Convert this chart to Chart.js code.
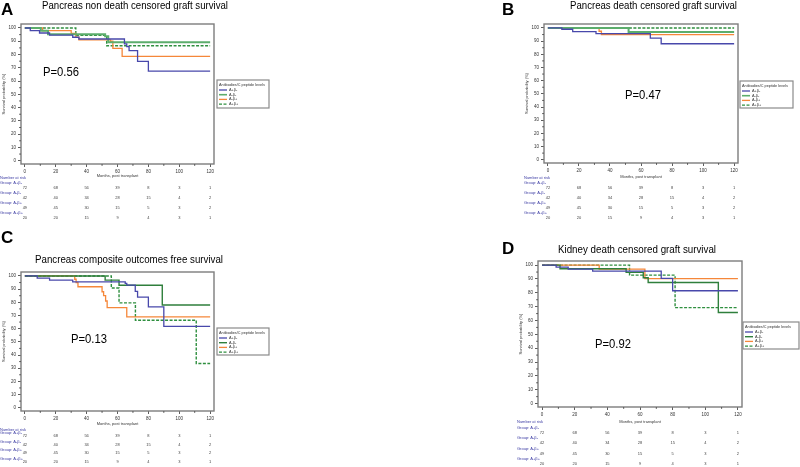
<!DOCTYPE html>
<html>
<head>
<meta charset="utf-8">
<script src="https://cdn.jsdelivr.net/npm/chart.js@4.4.1/dist/chart.umd.min.js"></script>
<style>
html, body { margin: 0; padding: 0; background: #fff; }
#wrap { position: relative; width: 800px; height: 467px; overflow: hidden; }
canvas { position: absolute; }
</style>
</head>
<body>
<div id="wrap">
  <canvas id="cA" width="400" height="230" style="left:0;top:0"></canvas>
  <canvas id="cB" width="400" height="230" style="left:400px;top:0"></canvas>
  <canvas id="cC" width="400" height="237" style="left:0;top:230px"></canvas>
  <canvas id="cD" width="400" height="237" style="left:400px;top:230px"></canvas>
</div>
<script>
// axis ticks and groups
const xTicks = [0, 20, 40, 60, 80, 100, 120];
const yTicks = [0, 10, 20, 30, 40, 50, 60, 70, 80, 90, 100];
const groupNames = ['A+β-', 'A-β-', 'A-β+', 'A+β+'];

// number at risk (same in every panel)
const riskApBn = [72, 68, 56, 39, 8, 3, 1];
const riskAnBn = [42, 40, 34, 28, 15, 4, 2];
const riskAnBp = [49, 45, 30, 15, 5, 3, 2];
const riskApBp = [20, 20, 15, 9, 4, 3, 1];

// A - pancreas non death censored graft survival  [month, %]
const a_ApBn = [[0,100],[3.5,98],[9.5,96.2],[16,94.6],[31,93],[35,91.7],[64.5,88],[66,86],[67.5,83],[73,74.8],[80,67.5],[120,67.5]];
const a_AnBn = [[0,100],[10.3,98],[15,95.3],[52,93.8],[54,89.2],[120,89.2]];
const a_AnBp = [[0,100],[11.5,98],[30,96],[33,93],[35,91],[55.5,90],[57,84.7],[63,78.6],[120,78.6]];
const a_ApBp = [[0,100],[33,94.4],[53,86.6],[120,86.6]];

// B - pancreas death censored graft survival
const b_ApBn = [[0,100],[9,99],[16,97.2],[31,95.7],[66,92.3],[73,88],[120,88]];
const b_AnBn = [[0,100],[52,97],[120,97]];
const b_AnBp = [[0,100],[33,97.5],[34.5,95],[120,95]];
const b_ApBp = [[0,100],[120,100]];

// C - pancreas composite outcomes free survival
const c_ApBn = [[0,100],[8,98.3],[16,96.8],[31,95.5],[65,94.3],[66,93],[71.5,88.3],[73,84],[80,76.6],[90,61.7],[120,61.7]];
const c_AnBn = [[0,100],[52,96.8],[61,93],[89,78],[120,78]];
const c_AnBp = [[0,100],[32.3,97.5],[33.2,95],[34.4,91.8],[50,88],[51,85],[52.3,81],[53.3,75.9],[66,69],[120,69]];
const c_ApBp = [[0,100],[56,90.8],[61,79.6],[71.6,66.4],[111,33.6],[120,33.6]];

// D - kidney death censored graft survival
const d_ApBn = [[0,100],[8.6,98.6],[16,97.2],[31,95.7],[73,90.4],[80,81.5],[120,81.5]];
const d_AnBn = [[0,100],[11,97.4],[51.5,94.8],[62,90.9],[65,87.5],[108,65.8],[120,65.8]];
const d_AnBp = [[0,100],[35,97.1],[63,90.2],[120,90.2]];
const d_ApBp = [[0,100],[53.6,92.8],[81.5,69.3],[120,69.3]];

const BLUE = '#4848ab', ORANGE = '#f5873a', LGREEN = '#5cad6c', DGREEN = '#2f7f3c', DASHG = '#2f8f3f';
const SMALL = '"Liberation Sans", Arial, sans-serif';

function makeExtras(p) {
  return {
    id: 'extras',
    afterDraw(chart) {
      const ctx = chart.ctx, ca = chart.chartArea;
      const xs = chart.scales.x, ys = chart.scales.y;
      const ox = p.off[0], oy = p.off[1];
      ctx.save();
      // frame
      ctx.strokeStyle = '#7d7d7d';
      ctx.lineWidth = 1.4;
      ctx.strokeRect(ca.left, ca.top, ca.right - ca.left, ca.bottom - ca.top);
      // minor ticks
      ctx.strokeStyle = '#333';
      ctx.lineWidth = 0.7;
      ctx.beginPath();
      for (let v = 10; v < 120; v += 20) {
        const px = xs.getPixelForValue(v);
        ctx.moveTo(px, ca.bottom); ctx.lineTo(px, ca.bottom + 2);
      }
      for (let v = 5; v < 100; v += 10) {
        const py = ys.getPixelForValue(v);
        ctx.moveTo(ca.left - 2, py); ctx.lineTo(ca.left, py);
      }
      ctx.stroke();

      // panel letter
      ctx.fillStyle = '#000';
      ctx.textBaseline = 'alphabetic';
      ctx.textAlign = 'left';
      ctx.font = 'bold 17px ' + SMALL;
      ctx.fillText(p.letter, p.letterPos[0] - ox, p.letterPos[1] - oy);
      // title
      ctx.font = '11px ' + SMALL;
      ctx.fillText(p.title, p.titlePos[0] - ox, p.titlePos[1] - oy, p.titlePos[2]);
      // p value
      ctx.font = '12.5px ' + SMALL;
      ctx.fillText(p.pval, p.pPos[0] - ox, p.pPos[1] - oy, 36);

      // axis titles
      ctx.fillStyle = '#333';
      ctx.font = '4px ' + SMALL;
      ctx.textAlign = 'center';
      ctx.textBaseline = 'middle';
      ctx.fillText('Months, post transplant', (ca.left + ca.right) / 2, p.monthsY - oy);
      ctx.save();
      ctx.translate(p.yTitleX - ox, (ca.top + ca.bottom) / 2);
      ctx.rotate(-Math.PI / 2);
      ctx.fillText('Survival probability (%)', 0, 0);
      ctx.restore();

      // legend box
      const [ll, lt, lr, lb] = p.legend.map((v, i) => v - (i % 2 ? oy : ox));
      ctx.fillStyle = '#fff';
      ctx.fillRect(ll, lt, lr - ll, lb - lt);
      ctx.strokeStyle = '#8a8a8a';
      ctx.lineWidth = 1.2;
      ctx.strokeRect(ll, lt, lr - ll, lb - lt);
      ctx.fillStyle = '#333';
      ctx.textAlign = 'left';
      ctx.font = '3.8px ' + SMALL;
      ctx.fillText('Antibodies/C peptide levels', ll + 2, lt + 4.5);
      chart.data.datasets.forEach((ds, i) => {
        const y = lt + 10 + 4.7 * i;
        ctx.strokeStyle = ds.borderColor;
        ctx.lineWidth = Math.min(ds.borderWidth, 1.6);
        ctx.setLineDash(ds.borderDash || []);
        ctx.beginPath();
        ctx.moveTo(ll + 2, y); ctx.lineTo(ll + 10, y);
        ctx.stroke();
        ctx.setLineDash([]);
        ctx.fillStyle = '#333';
        ctx.fillText(ds.label, ll + 12, y);
      });

      // number at risk table
      const risks = [riskApBn, riskAnBn, riskAnBp, riskApBp];
      ctx.font = '4px ' + SMALL;
      ctx.fillStyle = '#3b3ba3';
      ctx.textAlign = 'left';
      ctx.fillText('Number at risk', p.riskX - ox, p.nrY - oy);
      risks.forEach((row, g) => {
        ctx.fillStyle = '#3b3ba3';
        ctx.textAlign = 'left';
        ctx.fillText('Group: ' + groupNames[g], p.riskX - ox, p.g0 + p.step * g - oy);
        ctx.fillStyle = '#444';
        ctx.textAlign = 'center';
        row.forEach((n, i) => {
          ctx.fillText(String(n), xs.getPixelForValue(xTicks[i]), p.n0 + p.step * g - oy);
        });
      });
      ctx.restore();
    }
  };
}

function makePanel(id, p) {
  const canvas = document.getElementById(id);
  const W = canvas.width, H = canvas.height;
  const [ox, oy] = p.off;
  const l = p.box[0] - ox, t = p.box[1] - oy, r = p.box[2] - ox, b = p.box[3] - oy;
  const xH = 20;
  const tickFont = { family: SMALL, size: 4.5 };
  new Chart(canvas, {
    type: 'line',
    data: {
      datasets: p.curves.map((c, i) => ({
        label: groupNames[i],
        data: c.map(([x, y]) => ({ x: x, y: y })),
        borderColor: p.colors[i],
        borderWidth: p.widths[i],
        borderDash: i === 3 ? [3, 1.5] : [],
        stepped: true,
        pointRadius: 0,
        fill: false
      }))
    },
    options: {
      responsive: false,
      animation: false,
      layout: { padding: { left: 0, top: t, right: W - r, bottom: H - b - xH } },
      plugins: { legend: { display: false }, tooltip: { enabled: false } },
      scales: {
        x: {
          type: 'linear', min: -2.5, max: 122.5,
          afterBuildTicks: s => { s.ticks = xTicks.map(v => ({ value: v })); },
          afterFit: s => { s.height = xH; },
          grid: { drawOnChartArea: false, tickLength: 3, color: '#333', lineWidth: 0.8 },
          border: { display: false },
          ticks: { font: tickFont, color: '#333', padding: 2, maxRotation: 0, autoSkip: false }
        },
        y: {
          type: 'linear', min: -2.5, max: 103,
          afterBuildTicks: s => { s.ticks = yTicks.map(v => ({ value: v })); },
          afterFit: s => { s.width = l; },
          grid: { drawOnChartArea: false, tickLength: 3, color: '#333', lineWidth: 0.8 },
          border: { display: false },
          ticks: { font: tickFont, color: '#333', padding: 2, autoSkip: false }
        }
      }
    },
    plugins: [makeExtras(p)]
  });
}

makePanel('cA', {
  off: [0, 0], box: [21, 24, 214, 164],
  curves: [a_ApBn, a_AnBn, a_AnBp, a_ApBp],
  colors: [BLUE, LGREEN, ORANGE, DASHG], widths: [1.3, 2, 1.3, 1.4],
  letter: 'A', letterPos: [1, 15],
  title: 'Pancreas non death censored graft survival', titlePos: [42, 9, 186],
  pval: 'P=0.56', pPos: [43, 76],
  legend: [217, 80, 269, 108],
  yTitleX: 4, monthsY: 176, riskX: 0, nrY: 178, g0: 183, n0: 188, step: 10
});

makePanel('cB', {
  off: [400, 0], box: [544, 24, 738, 163],
  curves: [b_ApBn, b_AnBn, b_AnBp, b_ApBp],
  colors: [BLUE, LGREEN, ORANGE, DASHG], widths: [1.3, 2, 1.3, 1.4],
  letter: 'B', letterPos: [502, 15],
  title: 'Pancreas death censored graft survival', titlePos: [570, 8.5, 167],
  pval: 'P=0.47', pPos: [625, 99],
  legend: [740, 81, 793, 108],
  yTitleX: 527, monthsY: 176.5, riskX: 524, nrY: 178, g0: 183, n0: 188, step: 10
});

makePanel('cC', {
  off: [0, 230], box: [21, 272, 214, 411],
  curves: [c_ApBn, c_AnBn, c_AnBp, c_ApBp],
  colors: [BLUE, DGREEN, ORANGE, DASHG], widths: [1.3, 1.4, 1.3, 1.4],
  letter: 'C', letterPos: [1, 243],
  title: 'Pancreas composite outcomes free survival', titlePos: [35, 263, 188],
  pval: 'P=0.13', pPos: [71, 343],
  legend: [217, 328, 269, 355],
  yTitleX: 4, monthsY: 424, riskX: 0, nrY: 430, g0: 433, n0: 436, step: 8.5
});

makePanel('cD', {
  off: [400, 230], box: [538, 261, 742, 407],
  curves: [d_ApBn, d_AnBn, d_AnBp, d_ApBp],
  colors: [BLUE, DGREEN, ORANGE, DASHG], widths: [1.3, 1.4, 1.3, 1.4],
  letter: 'D', letterPos: [502, 254],
  title: 'Kidney death censored graft survival', titlePos: [558, 252.5, 158],
  pval: 'P=0.92', pPos: [595, 348],
  legend: [743, 322, 799, 349],
  yTitleX: 521, monthsY: 422, riskX: 517, nrY: 422, g0: 428, n0: 433, step: 10.3
});
</script>
</body>
</html>
